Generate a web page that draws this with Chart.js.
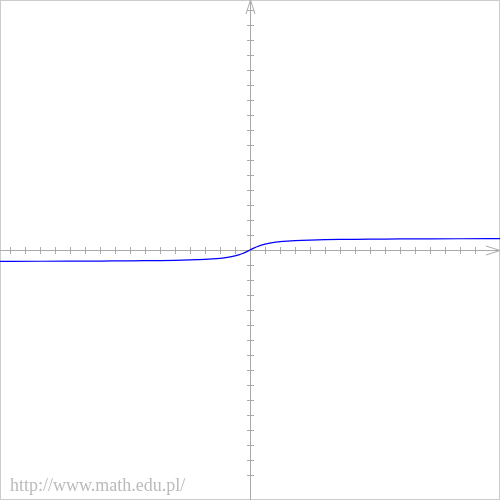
<!DOCTYPE html>
<html>
<head>
<meta charset="utf-8">
<script src="https://cdn.jsdelivr.net/npm/chart.js@4"></script>
<style>
html,body{margin:0;padding:0;background:#fff;}
#wrap{position:relative;width:500px;height:500px;}
#c{position:absolute;left:0;top:0;}
#credit{position:absolute;left:10px;top:476px;font-family:"Liberation Serif","Times New Roman",serif;font-size:18px;line-height:18px;color:#bbbbbb;white-space:nowrap;}
</style>
</head>
<body>
<div id="wrap">
<canvas id="c" width="500" height="500"></canvas>
<div id="credit">http://www.math.edu.pl/</div>
</div>
<script>
// Curve values (x in axis units, 15 px per unit)
const xValues = [-17, -14, -12, -10, -9, -8, -7, -6, -5, -4, -3, -2.5, -2, -1.5, -1, -0.75, -0.5, -0.25, 0,
                 0.25, 0.5, 0.75, 1, 1.5, 2, 2.5, 3, 4, 5, 6, 7, 8, 9, 10, 12, 14, 17];
const yValues = [-0.756, -0.750, -0.744, -0.736, -0.730, -0.723, -0.714, -0.703, -0.687, -0.663, -0.625, -0.595, -0.554, -0.491, -0.393, -0.322, -0.232, -0.123, 0,
                 0.123, 0.232, 0.322, 0.393, 0.491, 0.554, 0.595, 0.625, 0.663, 0.687, 0.703, 0.714, 0.723, 0.730, 0.736, 0.744, 0.750, 0.756];
// Axis range and tick positions (units)
const axisMin = -250/15;
const axisMax = 250/15;
const tickNeg = [-16,-15,-14,-13,-12,-11,-10,-9,-8,-7,-6,-5,-4,-3,-2,-1];
const tickPos = [1,2,3,4,5,6,7,8,9,10,11,12,13,14,15];

const axesPlugin = {
  id: 'axesPlugin',
  beforeDatasetsDraw(chart) {
    const ctx = chart.ctx;
    const xs = chart.scales.x, ys = chart.scales.y;
    const x0 = Math.round(xs.getPixelForValue(0)) + 0.5;
    const y0 = Math.round(ys.getPixelForValue(0)) + 0.5;
    const W = chart.width, H = chart.height;
    ctx.save();
    // frame
    ctx.strokeStyle = '#cccccc';
    ctx.lineWidth = 1;
    ctx.strokeRect(0.5, 0.5, W - 1, H - 1);
    // axes
    ctx.strokeStyle = '#aaaaaa';
    ctx.beginPath();
    ctx.moveTo(0, y0); ctx.lineTo(W, y0);
    ctx.moveTo(x0, 0); ctx.lineTo(x0, H);
    // x ticks
    tickNeg.concat(tickPos).forEach(v => {
      const px = Math.round(xs.getPixelForValue(v)) + 0.5;
      ctx.moveTo(px, y0 - 3.5); ctx.lineTo(px, y0 + 3.5);
    });
    // y ticks
    tickNeg.concat(tickPos).forEach(v => {
      const py = Math.round(ys.getPixelForValue(-v)) + 0.5;
      ctx.moveTo(x0 - 3.5, py); ctx.lineTo(x0 + 3.5, py);
    });
    // arrow heads
    ctx.moveTo(x0, 0); ctx.lineTo(x0 - 4.5, 14);
    ctx.moveTo(x0, 0); ctx.lineTo(x0 + 4.5, 14);
    ctx.moveTo(W, y0); ctx.lineTo(W - 14, y0 - 4.5);
    ctx.moveTo(W, y0); ctx.lineTo(W - 14, y0 + 4.5);
    ctx.stroke();
    ctx.restore();
  }
};

new Chart(document.getElementById('c'), {
  type: 'line',
  data: {
    datasets: [{
      data: xValues.map((x, i) => ({x: x, y: yValues[i]})),
      borderColor: '#0000ff',
      borderWidth: 1.2,
      pointRadius: 0,
      fill: false,
      cubicInterpolationMode: 'monotone'
    }]
  },
  options: {
    responsive: false,
    animation: false,
    devicePixelRatio: 1,
    layout: {padding: 0},
    plugins: {legend: {display: false}, tooltip: {enabled: false}},
    scales: {
      x: {type: 'linear', min: axisMin, max: axisMax, display: false},
      y: {type: 'linear', min: axisMin, max: axisMax, display: false}
    }
  },
  plugins: [axesPlugin]
});
</script>
</body>
</html>
